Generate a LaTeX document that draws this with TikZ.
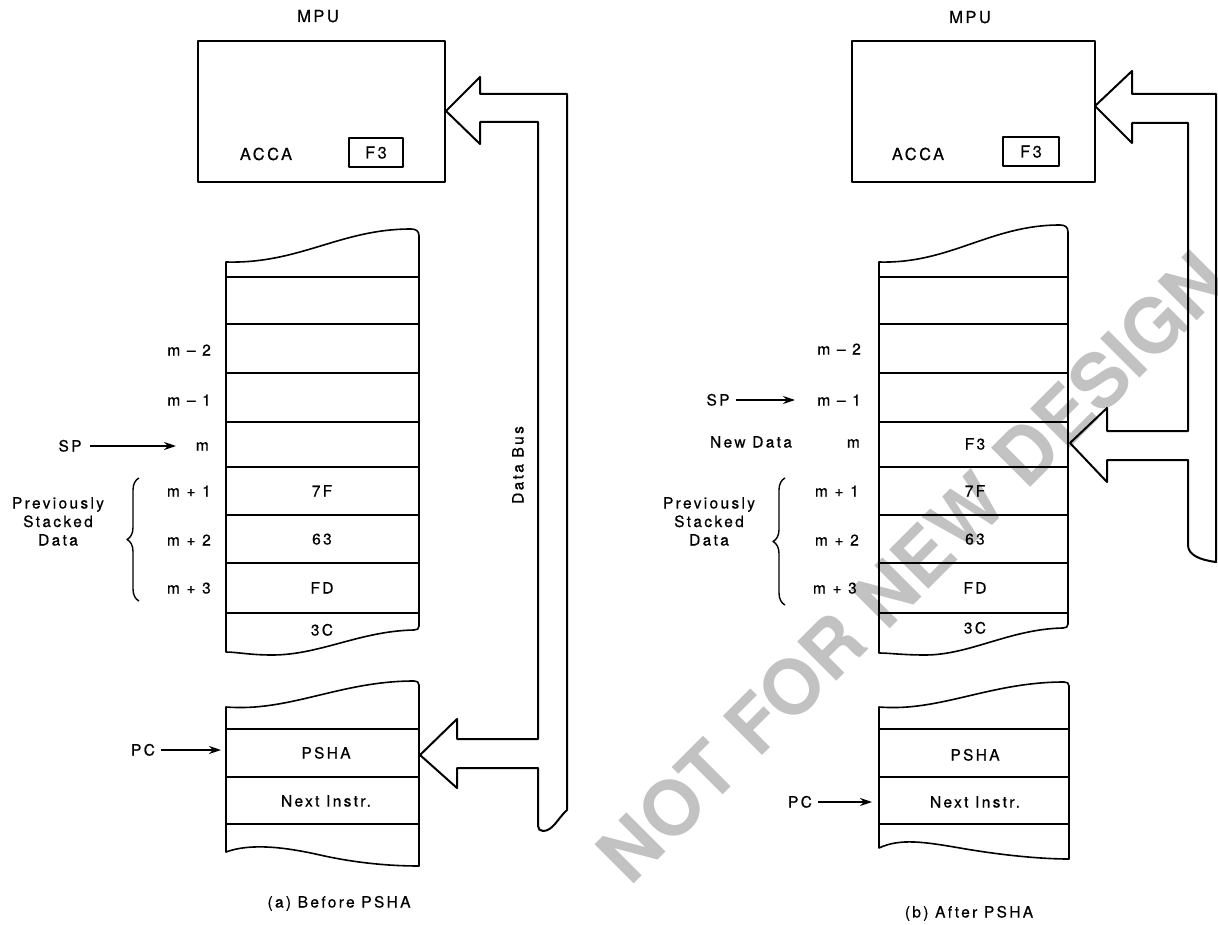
\documentclass[tikz,border=0pt]{standalone}
\usepackage{fontspec}
\setmainfont{TeX Gyre Heros}[LetterSpace=15,FakeBold=0.6]
\newfontfamily\wmfont{TeX Gyre Heros}
\usetikzlibrary{arrows.meta,decorations.pathreplacing}
\begin{document}
\begin{tikzpicture}[x=1pt,y=-1pt,line join=round,
  lbl/.style={font=\fontsize{15.5}{18.5}\selectfont,inner sep=0pt,text height=11pt,text depth=0pt},
  big/.style={font=\fontsize{16.5}{19}\selectfont,inner sep=0pt,text height=12pt,text depth=0pt},
  ln/.style={line width=1.6pt},
  busline/.style={line width=2pt},
  ptr/.style={line width=1.6pt,-{Stealth[length=12pt,width=8pt]}},
  brc/.style={line width=1.4pt,decorate,decoration={brace,amplitude=12pt}},
  wm/.style={font=\wmfont\bfseries\fontsize{76}{76}\selectfont,text=black!24,rotate=45,inner sep=0pt}]
\useasboundingbox (0,0) rectangle (1218,925);
\fill[white] (0,0) rectangle (1218,925);

% watermark
\node[wm] (wmark) at (912,567) {NOT FOR NEW DESIGN};

% ================= LEFT PANEL =================
\node[big] (mpuA) at (318,16) {MPU};
\draw[ln] (198,41) rectangle (445,182);
\node[big] (accaA) at (266,154) {ACCA};
\node[big,draw,line width=1.5pt,minimum width=54pt,minimum height=29pt,text height=12pt] (regA) at (376,152.5) {F3};

% upper stack (left)
\draw[ln] (226,262) .. controls (300,264) and (340,229) .. (411,229)
  .. controls (416,229) and (419,231) .. (419,236) -- (419,626)
  .. controls (419,629) and (417,630) .. (414,630)
  .. controls (360,631) and (320,655) .. (272,655)
  .. controls (250,655) and (236,652) .. (226,652) -- cycle;
\foreach \yy in {277,324,373,422,467,515,563,613} \draw[ln] (226,\yy) -- (419,\yy);

\node[lbl,anchor=east] (mm2A) at (211,350) {m – 2};
\node[lbl,anchor=east] (mm1A) at (211,400) {m – 1};
\node[lbl,anchor=east] (mA) at (209,445) {m};
\node[lbl,anchor=east] (mp1A) at (211,491) {m + 1};
\node[lbl,anchor=east] (mp2A) at (211,540) {m + 2};
\node[lbl,anchor=east] (mp3A) at (211,588) {m + 3};
\node[lbl] (spA) at (70,446) {SP};
\coordinate (spTipA) at (176,446);
\draw[ptr] ([xshift=8pt]spA.east) -- (spTipA);

\node[lbl] (d7FA) at (322,491) {7F};
\node[lbl] (d63A) at (322,539) {63};
\node[lbl] (dFDA) at (322,588) {FD};
\node[lbl] (d3CA) at (322,630) {3C};

\draw[brc] (139,601) -- (139,478);
\node[lbl,align=center] (prevA) at (58,540) {Previously\\Stacked\\Data};

% lower stack (left)
\draw[ln] (226,707) .. controls (290,712) and (340,681) .. (414,681)
  .. controls (417,681) and (419,682) .. (419,685) -- (419,866)
  .. controls (395,866) and (360,864) .. (320,855)
  .. controls (285,847) and (250,843) .. (226,852) -- cycle;
\foreach \yy in {729,777,824} \draw[ln] (226,\yy) -- (419,\yy);
\node[lbl] (pshaA) at (326,753) {PSHA};
\node[lbl] (nextA) at (326,801) {Next Instr.};
\node[lbl] (pcA) at (143,750) {PC};
\coordinate (pcTipA) at (221,750);
\draw[ptr] ([xshift=6pt]pcA.east) -- (pcTipA);

% data bus (left)
\draw[busline] (446,111) -- (480,77) -- (480,94) -- (567,94) -- (567,810)
  .. controls (558,818) and (553,831) .. (543,831)
  .. controls (540,831) and (538,829) .. (538,826) -- (538,768)
  -- (457,768) -- (457,788) -- (420,755) -- (457,719) -- (457,739)
  -- (538,739) -- (538,122) -- (480,122) -- (480,144) -- cycle;
\node[lbl,rotate=90] (busA) at (518,465) {Data Bus};

\node[lbl] (capA) at (339,902) {(a) Before PSHA};

% ================= RIGHT PANEL =================
\node[big] (mpuB) at (970,17) {MPU};
\draw[ln] (852,41) rectangle (1095,182);
\node[big] (accaB) at (918,154) {ACCA};
\node[big,draw,line width=1.5pt,minimum width=56pt,minimum height=29pt,text height=12pt] (regB) at (1031,151.5) {F3};

% upper stack (right)
\draw[ln] (879,262) .. controls (950,264) and (990,225) .. (1060,225)
  .. controls (1065,225) and (1068,227) .. (1068,232) -- (1068,624)
  .. controls (1068,627) and (1066,628) .. (1063,628)
  .. controls (1010,629) and (970,655) .. (925,655)
  .. controls (903,655) and (889,653) .. (879,653) -- cycle;
\foreach \yy in {277,324,373,422,467,515,563,613} \draw[ln] (879,\yy) -- (1068,\yy);

\node[lbl,anchor=east] (mm2B) at (861,349) {m – 2};
\node[lbl,anchor=east] (mm1B) at (861,400) {m – 1};
\node[lbl,anchor=east] (mB) at (860,442) {m};
\node[lbl,anchor=east] (mp1B) at (859,491) {m + 1};
\node[lbl,anchor=east] (mp2B) at (859,540) {m + 2};
\node[lbl,anchor=east] (mp3B) at (857,588) {m + 3};
\node[lbl] (spB) at (718,400) {SP};
\coordinate (spTipB) at (795,400);
\draw[ptr] ([xshift=6pt]spB.east) -- (spTipB);
\node[lbl] (newB) at (751,442) {New Data};

\node[lbl] (dF3B) at (975,444) {F3};
\node[lbl] (d7FB) at (975,491) {7F};
\node[lbl] (d63B) at (975,539) {63};
\node[lbl] (dFDB) at (975,588) {FD};
\node[lbl] (d3CB) at (975,628) {3C};

\draw[brc] (785,605) -- (785,478);
\node[lbl,align=center] (prevB) at (709,540) {Previously\\Stacked\\Data};

% lower stack (right)
\draw[ln] (879,707) .. controls (940,712) and (990,682) .. (1064,682)
  .. controls (1067,682) and (1069,683) .. (1069,686) -- (1069,859)
  .. controls (1040,859) and (1000,855) .. (960,848)
  .. controls (925,842) and (900,838) .. (879,848) -- cycle;
\foreach \yy in {729,777,824} \draw[ln] (879,\yy) -- (1069,\yy);
\node[lbl] (pshaB) at (975,755) {PSHA};
\node[lbl] (nextB) at (975,802) {Next Instr.};
\node[lbl] (pcB) at (800,802) {PC};
\coordinate (pcTipB) at (872,802);
\draw[ptr] ([xshift=6pt]pcB.east) -- (pcTipB);

% data bus (right)
\draw[busline] (1095,106) -- (1132,71) -- (1132,94) -- (1216,94) -- (1216,562)
  .. controls (1200,560) and (1188,555) .. (1188,545) -- (1188,460)
  -- (1107,460) -- (1107,482) -- (1070,443) -- (1107,408) -- (1107,431)
  -- (1188,431) -- (1188,123) -- (1132,123) -- (1132,143) -- cycle;

\node[lbl] (capB) at (969,912) {(b) After PSHA};
\end{tikzpicture}
\end{document}
